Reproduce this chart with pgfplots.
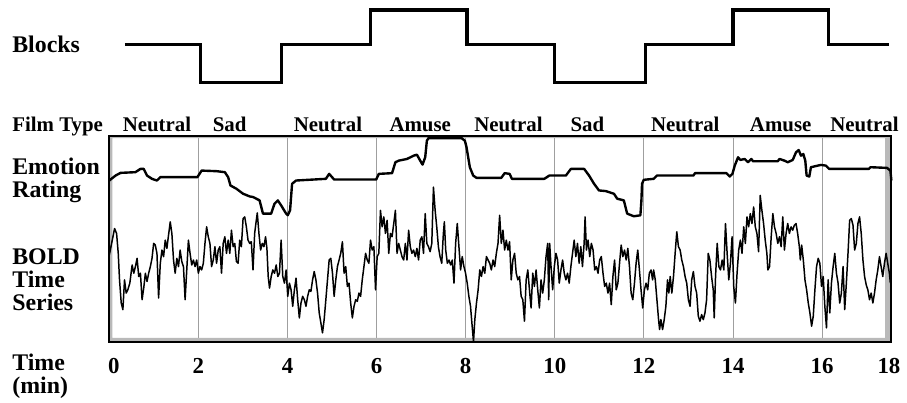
\documentclass[border=0pt]{standalone}
\usepackage{fontspec}
\setmainfont{Liberation Serif}
\usepackage{pgfplots}
\pgfplotsset{compat=1.18}

\begin{document}
\begin{tikzpicture}[film/.style={anchor=base, font=\fontsize{10.5}{12}\selectfont\bfseries},
  side/.style={anchor=west, align=left, inner sep=0pt, font=\fontsize{12}{11.6}\selectfont\bfseries}]
\begin{axis}[
  scale only axis, width=393.5pt, height=103.5pt,
  xmin=0, xmax=17.55, ymin=0, ymax=207,
  clip=false,
  axis line style={draw=none},
  ytick=\empty,
  xtick={2,4,...,16},
  extra x ticks={0.1,17.5}, extra x tick labels={0,18},
  extra x tick style={grid=none},
  major tick length=0pt,
  xmajorgrids, grid style={gray!75, line width=0.5pt},
  xticklabel style={font=\fontsize{11.5}{12}\selectfont\bfseries, yshift=-5pt},
  /pgf/number format/assume math mode=true,
]
% grey frame band
\fill[gray!55, even odd rule] (rel axis cs:0,0) rectangle (rel axis cs:1,1)
  ([xshift=1.5pt,yshift=2pt]rel axis cs:0,0) rectangle ([xshift=-3pt,yshift=-1pt]rel axis cs:1,1);

% blocks
\addplot[const plot, black, line width=1.6pt] coordinates {
(0.35,299)(2.05,261)(3.86,299)(5.86,334)(8.03,299)(10.0,261)(12.04,299)(14.0,334)(16.14,299)(17.5,299)
};

% BOLD time series
\addplot[black, line width=0.75pt, line join=round] coordinates {
(0,87.3)(0.067,102.3)(0.119,114)(0.164,109)(0.201,89)(0.230,62.3)(0.268,39)(0.305,32.3)(0.342,62.3)(0.379,49)(0.416,52.3)(0.461,59)(0.513,77.3)(0.550,69)(0.587,75.7)(0.624,84)(0.661,65.7)(0.699,69)(0.736,42.3)(0.773,54)(0.810,69)(0.847,60.7)(0.884,69)(0.922,75.7)(0.959,84)(0.996,99)(1.033,97.3)(1.070,89)(1.107,44)(1.145,79)(1.182,92.3)(1.219,85.7)(1.256,102.3)(1.293,94)(1.330,107.3)(1.368,120.7)(1.405,109)(1.442,82.3)(1.479,69)(1.516,84)(1.553,75.7)(1.590,92.3)(1.628,80.7)(1.665,75.7)(1.702,42.3)(1.739,72.3)(1.776,102.3)(1.813,89)(1.851,77.3)(1.888,82.3)(1.925,75.7)(1.962,82.3)(1.999,69)(2.036,75.7)(2.073,72.3)(2.111,79)(2.148,99)(2.185,115.7)(2.222,105.7)(2.259,99)(2.296,75.7)(2.334,82.3)(2.371,95.7)
(2.408,79)(2.445,92.3)(2.482,95.7)(2.519,69)(2.557,99)(2.594,105.7)(2.631,89)(2.668,102.3)(2.705,89)(2.742,112.3)(2.780,95.7)(2.817,99)(2.854,80.7)(2.891,79)(2.928,102.3)(2.965,95.7)(3.003,124)(3.040,125.7)(3.077,115.7)(3.114,102.3)(3.151,99)(3.188,100.7)(3.226,72.3)(3.263,109)(3.300,122.3)(3.322,129.7)(3.359,109)(3.397,92.3)(3.434,99)(3.471,95.7)(3.508,105.7)(3.538,94)(3.567,65.7)(3.597,54)(3.634,65.7)(3.671,72.3)(3.709,69)(3.746,77.3)(3.783,65.7)(3.820,69)(3.857,102.3)(3.894,65.7)(3.932,59)(3.969,72.3)(4.006,45.7)(4.043,59)(4.080,52.3)(4.117,35.7)(4.155,52.3)(4.192,64)(4.229,42.3)(4.266,24)(4.303,39)(4.340,45.7)(4.378,42.3)(4.415,35.7)(4.452,45.7)(4.489,52.3)(4.526,50.7)(4.563,62.3)(4.600,70.7)(4.638,62.3)(4.675,49)(4.712,29)(4.749,19)(4.786,9)(4.823,22.3)
(4.861,42.3)(4.898,62.3)(4.935,82.3)(4.972,84)(5.010,69)(5.047,45.7)(5.084,62.3)(5.121,75.7)(5.158,82.3)(5.195,89)(5.233,100.7)(5.270,69)(5.307,75.7)(5.344,55.7)(5.381,59)(5.418,39)(5.456,24)(5.493,35.7)(5.530,42.3)(5.567,40.7)(5.604,49)(5.641,45.7)(5.678,62.3)(5.716,75.7)(5.753,89)(5.790,82.3)(5.827,79)(5.864,102.3)(5.901,92.3)(5.939,95.7)(5.976,52.3)(6.013,85.7)(6.050,89)(6.087,132.3)(6.124,115.7)(6.162,125.7)(6.199,109)(6.236,122.3)(6.273,89)(6.310,109)(6.347,105.7)(6.385,119)(6.422,132.3)(6.459,89)(6.496,99)(6.533,92.3)(6.570,85.7)(6.608,82.3)(6.645,99)(6.682,82.3)(6.719,112.3)(6.756,95.7)(6.793,89)(6.830,92.3)(6.868,85.7)(6.905,94)(6.942,82.3)(6.979,102.3)(7.016,105.7)(7.053,89)(7.091,129)(7.128,99)(7.165,95.7)(7.202,90.7)(7.239,99)(7.276,155.7)(7.314,132.3)
(7.350,115.7)(7.387,95.7)(7.424,85.7)(7.462,79)(7.499,109)(7.521,120.7)(7.551,92.3)(7.588,79)(7.625,82.3)(7.662,77.3)(7.699,82.3)(7.737,59)(7.774,99)(7.811,119)(7.848,95.7)(7.885,72.3)(7.922,85.7)(7.960,75.7)(7.997,69)(8.034,59)(8.071,45.7)(8.108,35.7)(8.145,15.7)(8.175,0)(8.205,22.3)(8.242,39)(8.279,52.3)(8.316,72.3)(8.353,65.7)(8.391,75.7)(8.428,69)(8.465,85.7)(8.502,82.3)(8.539,79)(8.576,72.3)(8.614,82.3)(8.651,75.7)(8.688,89)(8.725,99)(8.762,127.3)(8.799,99)(8.836,112.3)(8.874,92.3)(8.911,102.3)(8.948,92.3)(8.985,100.7)(9.022,62.3)(9.059,82.3)(9.097,89)(9.134,69)(9.171,62.3)(9.208,65.7)(9.245,45.7)(9.282,42.3)(9.319,20.7)(9.357,62.3)(9.394,72.3)(9.431,52.3)(9.468,34)(9.505,69)(9.542,55.7)(9.580,72.3)(9.617,52.3)(9.654,34)(9.691,62.3)(9.728,49)(9.765,62.3)
(9.803,85.7)(9.840,99)(9.863,42.3)(9.885,99)(9.915,75.7)(9.952,52.3)(9.989,75.7)(10.026,89)(10.063,82.3)(10.100,59)(10.138,72.3)(10.175,82.3)(10.212,69)(10.249,62.3)(10.286,69)(10.323,59)(10.361,75.7)(10.398,89)(10.435,102.3)(10.472,85.7)(10.509,99)(10.546,79)(10.584,95.7)(10.621,75.7)(10.658,99)(10.680,125.7)(10.710,92.3)(10.747,102.3)(10.784,85.7)(10.821,99)(10.859,92.3)(10.896,72.3)(10.933,75.7)(10.970,69)(11.007,82.3)(11.044,85.7)(11.082,69)(11.119,55.7)(11.156,59)(11.193,49)(11.230,59)(11.267,37.3)(11.304,65.7)(11.342,82.3)(11.379,52.3)(11.416,59)(11.453,79)(11.490,97.3)(11.527,85.7)(11.565,92.3)(11.602,82.3)(11.639,94)(11.676,75.7)(11.713,49)(11.750,42.3)(11.788,59)(11.825,79)(11.862,92.3)(11.899,72.3)(11.936,52.3)(11.973,34)(12.011,52.3)(12.048,59)(12.085,52.3)(12.122,69)(12.159,72.3)(12.196,62.3)
(12.218,72.3)(12.255,62.3)(12.292,42.3)(12.329,22.3)(12.352,12.3)(12.381,22.3)(12.419,12.3)(12.456,22.3)(12.493,35.7)(12.530,62.3)(12.560,49)(12.590,65.7)(12.627,49)(12.664,65.7)(12.701,89)(12.738,110.7)(12.775,95.7)(12.813,92.3)(12.850,82.3)(12.887,75.7)(12.924,65.7)(12.961,59)(12.998,42.3)(13.036,35.7)(13.073,62.3)(13.110,70.7)(13.147,55.7)(13.184,49)(13.221,25.7)(13.258,20.7)(13.296,27.3)(13.333,22.3)(13.370,29)(13.407,42.3)(13.444,89)(13.481,82.3)(13.519,65.7)(13.556,52.3)(13.578,24)(13.608,65.7)(13.645,99)(13.682,75.7)(13.719,72.3)(13.756,82.3)(13.794,72.3)(13.831,119)(13.868,89)(13.905,62.3)(13.942,79)(13.979,105.7)(14.016,55.7)(14.054,39)(14.091,69)(14.128,92.3)(14.165,102.3)(14.202,89)(14.240,115.7)(14.277,99)(14.314,125.7)(14.351,115.7)(14.388,129)(14.425,119)(14.463,135.7)(14.500,115.7)(14.537,109)(14.574,90.7)(14.611,147.3)(14.648,132.3)(14.686,119)(14.723,102.3)(14.760,89)
(14.782,72.3)(14.820,75.7)(14.857,105.7)(14.894,129)(14.931,115.7)(14.968,109)(15.005,99)(15.043,105.7)(15.080,95.7)(15.117,125.7)(15.154,92.3)(15.191,109)(15.228,119)(15.266,109)(15.303,115.7)(15.340,112.3)(15.377,117.3)(15.414,119)(15.451,109)(15.489,95.7)(15.511,82.3)(15.541,97.3)(15.578,82.3)(15.615,62.3)(15.652,52.3)(15.689,39)(15.726,29)(15.764,15.7)(15.801,25.7)(15.838,52.3)(15.875,75.7)(15.912,84)(15.949,79)(15.987,55.7)(16.024,65.7)(16.061,35.7)(16.098,14)(16.135,62.3)(16.172,29)(16.209,59)(16.247,75.7)(16.284,89)(16.321,69)(16.358,59)(16.395,39)(16.432,49)(16.470,75.7)(16.507,32.3)(16.544,59)(16.581,89)(16.618,122.3)(16.655,124)(16.693,117.3)(16.730,92.3)(16.767,99)(16.804,119)(16.841,125.7)(16.878,109)(16.916,82.3)(16.953,65.7)(16.990,57.3)(17.027,52.3)(17.064,42.3)(17.101,49)(17.139,39)(17.176,49)(17.213,62.3)(17.250,72.3)(17.287,85.7)(17.324,75.7)(17.361,65.7)(17.399,79)(17.436,89)(17.473,79)(17.510,69)(17.532,59)
};

% emotion rating
\addplot[black, line width=1.2pt, line join=round] coordinates {
(0,162.3)(0.141,167.3)(0.253,170)(0.587,170.7)(0.699,174)(0.773,174)(0.847,167.3)(0.959,164)(1.070,162.3)(1.145,165.7)(1.977,165.7)(2.073,172.3)(2.408,171.7)(2.594,170.7)(2.668,165.7)(2.720,157.3)(2.854,154)(3.003,149)(3.151,146.3)(3.226,145.7)(3.374,142.3)(3.449,129)(3.634,129)(3.709,139)(3.783,142.3)(3.857,137.3)(3.969,129)(4.006,127.3)(4.058,132.3)(4.103,159)(4.192,162.3)(4.861,164)(4.935,169)(5.047,163.3)(5.991,163.3)(6.050,169)(6.347,169.7)(6.422,180.7)(6.496,182.3)(6.682,184)(6.830,187.3)(6.905,188.3)(6.979,182.3)(7.031,178.3)(7.091,185.7)(7.128,202.3)(7.165,205)(7.908,205)(7.982,202.3)(8.019,195.7)(8.056,185.7)(8.093,175.7)(8.168,167.3)(8.242,165)(8.799,165)(8.874,169.7)(8.985,169)(9.037,164)(9.765,164)(9.877,167.3)(10.249,167.3)(10.361,174)(10.658,174)(10.769,167.3)(10.881,159)(10.992,152.3)(11.141,151.7)(11.327,149)(11.401,144)(11.550,142.3)(11.624,129)(11.773,126.3)(11.921,127.3)(11.944,142.3)(11.958,159)(11.996,163)(12.218,164)(12.292,167.3)(13.110,167.3)(13.147,169.7)(13.853,169.7)(13.927,166.3)(13.987,169)(14.039,177.3)(14.113,185.7)(14.165,183)(14.262,184)(14.336,180.7)(14.411,184)(14.448,181.7)(15.005,181.7)(15.043,184)(15.154,182.3)(15.228,180.7)(15.340,183)(15.414,190.7)(15.474,193)(15.526,187.3)(15.578,189)(15.622,182.3)(15.652,167.3)(15.712,166.3)(15.749,175.7)(15.972,178)(16.083,177.3)(16.157,174)(17.049,174)(17.087,175.7)(17.458,175)(17.532,172.3)(17.555,162.3)
};

% outer frame line
\draw[black, line width=0.8pt] (rel axis cs:0,0) rectangle (rel axis cs:1,1);

% labels
\node[side] at (axis cs:-2.185,299) {Blocks};
\node[film, anchor=base west, inner sep=0pt] at (axis cs:-2.185,212) {Film Type};
\node[side] at (axis cs:-2.185,162.5) {Emotion\\Rating};
\node[side] at (axis cs:-2.185,62) {BOLD\\Time\\Series};
\node[side] at (axis cs:-2.185,-34.5) {Time\\(min)};
\node[film] at (axis cs:1.07,212) {Neutral};
\node[film] at (axis cs:2.70,212) {Sad};
\node[film] at (axis cs:4.91,212) {Neutral};
\node[film] at (axis cs:6.98,212) {Amuse};
\node[film] at (axis cs:8.96,212) {Neutral};
\node[film] at (axis cs:10.73,212) {Sad};
\node[film] at (axis cs:12.93,212) {Neutral};
\node[film] at (axis cs:15.07,212) {Amuse};
\node[film] at (axis cs:16.95,212) {Neutral};

% page extent
\path (axis cs:-2.453,-61) rectangle (axis cs:17.77,344);
\end{axis}
\end{tikzpicture}
\end{document}
